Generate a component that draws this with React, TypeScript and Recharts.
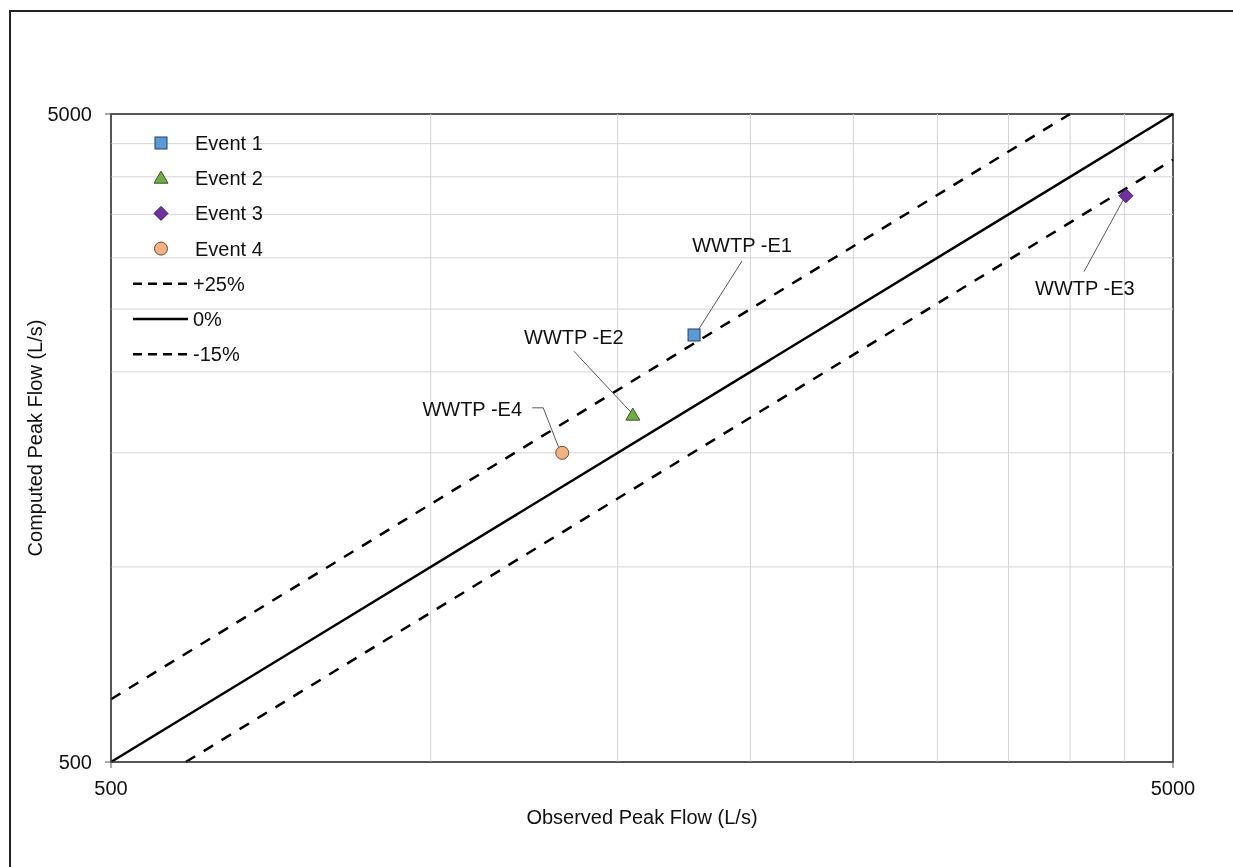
import React from "react";
import {
  ScatterChart, Scatter, XAxis, YAxis, ReferenceLine, ReferenceArea,
} from "recharts";

// axis ticks and grid lines (log-log, one decade)
const axisTicks = [500, 5000];
const gridValues = [1000, 1500, 2000, 2500, 3000, 3500, 4000, 4500];

// observed vs computed peak flows (L/s)
const event1 = [{ observed: 1770, computed: 2280, label: "WWTP -E1" }];
const event2 = [{ observed: 1550, computed: 1715, label: "WWTP -E2" }];
const event3 = [{ observed: 4515, computed: 3740, label: "WWTP -E3" }];
const event4 = [{ observed: 1330, computed: 1500, label: "WWTP -E4" }];

// reference lines
const plus25 = [{ x: 500, y: 625 }, { x: 4000, y: 5000 }];
const zeroLine = [{ x: 500, y: 500 }, { x: 5000, y: 5000 }];
const minus15 = [{ x: 588, y: 500 }, { x: 5000, y: 4250 }];

const FONT = "'Liberation Sans', Arial, sans-serif";
const DASH = "11 10";
const LEGEND_DASH = "9 6";

type Kind = "square" | "triangle" | "diamond" | "circle";

const eventStyles: Record<string, { kind: Kind; fill: string; stroke: string }> = {
  "Event 1": { kind: "square", fill: "#5B9BD5", stroke: "#23405e" },
  "Event 2": { kind: "triangle", fill: "#70AD47", stroke: "#355a1f" },
  "Event 3": { kind: "diamond", fill: "#7030A0", stroke: "#3c1559" },
  "Event 4": { kind: "circle", fill: "#F4B183", stroke: "#6b4a33" },
};

// label placement relative to the marker, in pixels
const annotations: Record<string, { dx: number; dy: number; leader: number[][] }> = {
  "Event 1": { dx: 48, dy: -90, leader: [[48, -74], [1, 0]] },
  "Event 2": { dx: -59, dy: -78, leader: [[-59, -64], [-2, -3]] },
  "Event 3": { dx: -41, dy: 92, leader: [[-42, 76], [-1, 1]] },
  "Event 4": { dx: -90, dy: -44, leader: [[-30, -45], [-19, -45], [-3, -4]] },
};

const series = [
  { name: "Event 1", data: event1 },
  { name: "Event 2", data: event2 },
  { name: "Event 3", data: event3 },
  { name: "Event 4", data: event4 },
];

const lineItems = [
  { name: "+25%", points: plus25, dash: DASH, legendDash: LEGEND_DASH },
  { name: "0%", points: zeroLine, dash: undefined, legendDash: undefined },
  { name: "-15%", points: minus15, dash: DASH, legendDash: LEGEND_DASH },
];

const marker = (kind: Kind, cx: number, cy: number, fill: string, stroke: string) => {
  if (kind === "square")
    return <rect x={cx - 6} y={cy - 6} width={12} height={12} fill={fill} stroke={stroke} strokeWidth={1} />;
  if (kind === "triangle")
    return <polygon points={`${cx},${cy - 7} ${cx + 7},${cy + 5} ${cx - 7},${cy + 5}`} fill={fill} stroke={stroke} strokeWidth={1} />;
  if (kind === "diamond")
    return <polygon points={`${cx},${cy - 7} ${cx + 7},${cy} ${cx},${cy + 7} ${cx - 7},${cy}`} fill={fill} stroke={stroke} strokeWidth={1} />;
  return <circle cx={cx} cy={cy} r={6.5} fill={fill} stroke={stroke} strokeWidth={1} />;
};

const makeShape = (name: string) => (props: any) => {
  const { cx, cy, payload } = props;
  const st = eventStyles[name];
  const a = annotations[name];
  const pts = a.leader.map(([x, y]) => `${cx + x},${cy + y}`).join(" ");
  return (
    <g>
      <polyline points={pts} fill="none" stroke="#595959" strokeWidth={1} />
      {marker(st.kind, cx, cy, st.fill, st.stroke)}
      <text x={cx + a.dx} y={cy + a.dy} textAnchor="middle" dominantBaseline="central"
        fontSize={20} fontFamily={FONT} fill="#111">
        {payload.label}
      </text>
    </g>
  );
};

const LegendBox = () => {
  const rowGap = 35.2;
  return (
    <svg width={170} height={260} style={{ display: "block" }}>
      {series.map((s, i) => {
        const st = eventStyles[s.name];
        const y = 15 + i * rowGap;
        return (
          <g key={s.name}>
            {marker(st.kind, 33, y, st.fill, st.stroke)}
            <text x={67} y={y} dominantBaseline="central" fontSize={20} fontFamily={FONT} fill="#111">{s.name}</text>
          </g>
        );
      })}
      {lineItems.map((l, i) => {
        const y = 15 + (i + 4) * rowGap;
        return (
          <g key={l.name}>
            <line x1={5} x2={60} y1={y} y2={y} stroke="#000" strokeWidth={2.5} strokeDasharray={l.legendDash} />
            <text x={65} y={y} dominantBaseline="central" fontSize={20} fontFamily={FONT} fill="#111">{l.name}</text>
          </g>
        );
      })}
    </svg>
  );
};

export default function App() {
  return (
    <div style={{ position: "relative", width: 1200, height: 840, fontFamily: FONT }}>
      {/* outer chart frame: only top and left edges fall inside the picture */}
      <div style={{
        position: "fixed", left: 9, top: 10, width: 1400, height: 1000,
        borderTop: "2px solid #222", borderLeft: "2px solid #222", pointerEvents: "none",
      }} />
      <ScatterChart width={1200} height={840} margin={{ top: 106, right: 35, left: 0, bottom: 26 }}>
        <XAxis
          type="number" dataKey="observed" scale="log" domain={[500, 5000]} ticks={axisTicks}
          allowDataOverflow height={60} tickSize={6} tickMargin={13}
          stroke="#555" tick={{ fill: "#111", fontSize: 20, fontFamily: FONT }}
          label={{
            content: ({ viewBox }: any) => (
              <text x={viewBox.x + viewBox.width / 2} y={viewBox.y + 55} textAnchor="middle"
                dominantBaseline="central" fontSize={20} fontFamily={FONT} fill="#111">
                Observed Peak Flow (L/s)
              </text>
            ),
          }}
        />
        <YAxis
          type="number" dataKey="computed" scale="log" domain={[500, 5000]} ticks={axisTicks}
          allowDataOverflow width={103} tickSize={6} tickMargin={13}
          stroke="#555" tick={{ fill: "#111", fontSize: 20, fontFamily: FONT }}
          label={{
            content: ({ viewBox }: any) => {
              const x = viewBox.x + 27;
              const y = viewBox.y + viewBox.height / 2;
              return (
                <text x={x} y={y} transform={`rotate(-90 ${x} ${y})`} textAnchor="middle"
                  dominantBaseline="central" fontSize={20} fontFamily={FONT} fill="#111">
                  Computed Peak Flow (L/s)
                </text>
              );
            },
          }}
        />
        {gridValues.map((v) => (
          <ReferenceLine key={`gx-${v}`} x={v} stroke="#d4d4d4" strokeWidth={1} />
        ))}
        {gridValues.map((v) => (
          <ReferenceLine key={`gy-${v}`} y={v} stroke="#d4d4d4" strokeWidth={1} />
        ))}
        <ReferenceArea x1={500} x2={5000} y1={500} y2={5000} fill="none" stroke="#222" strokeWidth={1.5} />
        {lineItems.map((l) => (
          <ReferenceLine
            key={l.name}
            segment={l.points}
            stroke="#000"
            strokeWidth={2.5}
            strokeDasharray={l.dash}
            ifOverflow="visible"
          />
        ))}
        {series.map((s) => (
          <Scatter key={s.name} name={s.name} data={s.data} shape={makeShape(s.name)} isAnimationActive={false} />
        ))}
      </ScatterChart>
      <div style={{ position: "absolute", left: 120, top: 120 }}>
        <LegendBox />
      </div>
    </div>
  );
}
